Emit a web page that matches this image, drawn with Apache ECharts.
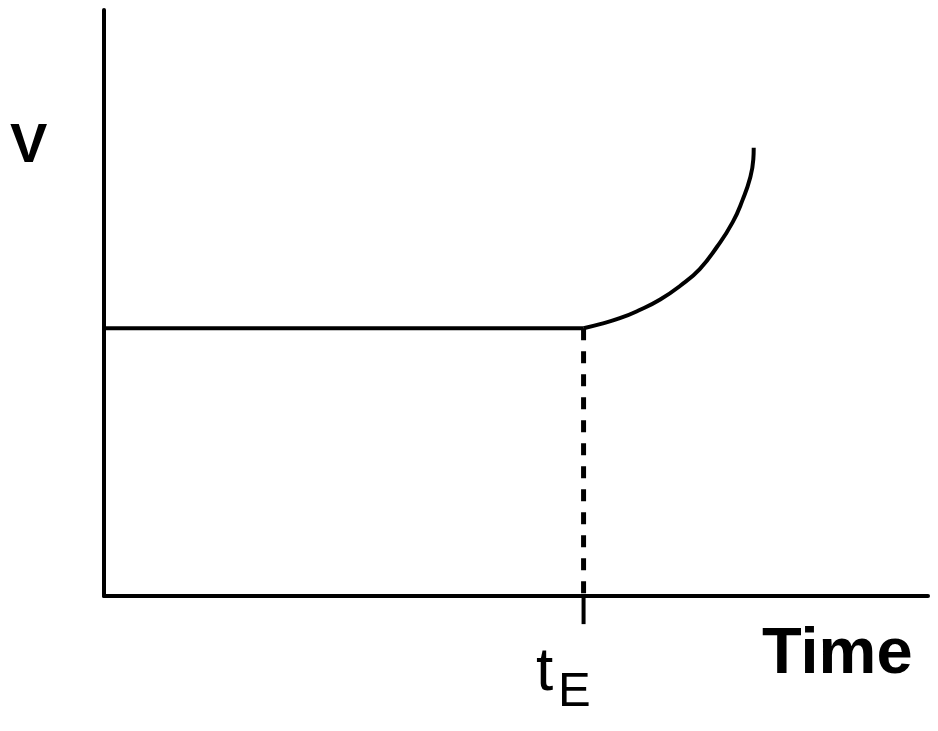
<!DOCTYPE html>
<html>
<head>
<meta charset="utf-8">
<script src="https://cdn.jsdelivr.net/npm/echarts@6/dist/echarts.min.js"></script>
<style>
  html, body { margin: 0; padding: 0; background: #fff; }
  #chart { width: 938px; height: 731px; }
</style>
</head>
<body>
<div id="chart"></div>
<script>
// Data (axis units: 0..100 on both axes)
const flatX = [0, 58.2];
const flatY = [45.7, 45.7];
const curveX = [58.2, 60.2, 62.6, 65.0, 67.5, 69.9, 72.3, 74.4, 76.3, 77.5, 78.4, 78.8, 78.85];
const curveY = [45.7, 46.4, 47.4, 48.8, 50.6, 52.9, 55.8, 59.6, 63.8, 67.6, 71.3, 74.5, 76.5];
const tE = 58.2;
const tickDepth = -4.8;
const axisLabels = { y: 'V', x: 'Time', t: 't', sub: 'E' };

const flatData = flatX.map((x, i) => [x, flatY[i]]);
const curveData = curveX.map((x, i) => [x, curveY[i]]);

const chart = echarts.init(document.getElementById('chart'), null, { renderer: 'canvas' });
const font = 'Liberation Sans, Arial, sans-serif';
chart.setOption({
  animation: false,
  backgroundColor: '#fff',
  grid: { left: 104, right: 10, top: 10, bottom: 135 },
  xAxis: {
    type: 'value', min: 0, max: 100,
    axisLine: { show: true, onZero: true, lineStyle: { color: '#000', width: 4 } },
    axisTick: { show: false }, axisLabel: { show: false }, splitLine: { show: false }
  },
  yAxis: {
    type: 'value', min: 0, max: 100,
    axisLine: { show: true, lineStyle: { color: '#000', width: 4 } },
    axisTick: { show: false }, axisLabel: { show: false }, splitLine: { show: false }
  },
  series: [
    {
      type: 'line', data: flatData, showSymbol: false,
      lineStyle: { color: '#000', width: 4 }
    },
    {
      type: 'line', data: curveData, showSymbol: false, smooth: 0.5,
      lineStyle: { color: '#000', width: 4 }
    },
    {
      type: 'line', data: [[tE, flatY[1]], [tE, 0]], showSymbol: false,
      lineStyle: { color: '#000', width: 5, type: [12, 11] }
    },
    {
      type: 'line', data: [[tE, 0], [tE, tickDepth]], showSymbol: false, clip: false,
      lineStyle: { color: '#000', width: 4 }
    }
  ],
  graphic: [
    { type: 'text', left: 10, top: 147 - 28, style: { text: axisLabels.y, font: 'bold 56px ' + font, fill: '#000' } },
    { type: 'text', x: 762, y: 655, style: { text: axisLabels.x, font: 'bold 65px ' + font, fill: '#000', verticalAlign: 'middle' } },
    { type: 'text', x: 536, y: 673, style: { text: axisLabels.t, font: '62px ' + font, fill: '#000', verticalAlign: 'middle' } },
    { type: 'text', x: 558, y: 692, style: { text: axisLabels.sub, font: '49px ' + font, fill: '#000', verticalAlign: 'middle' } }
  ]
});
</script>
</body>
</html>
